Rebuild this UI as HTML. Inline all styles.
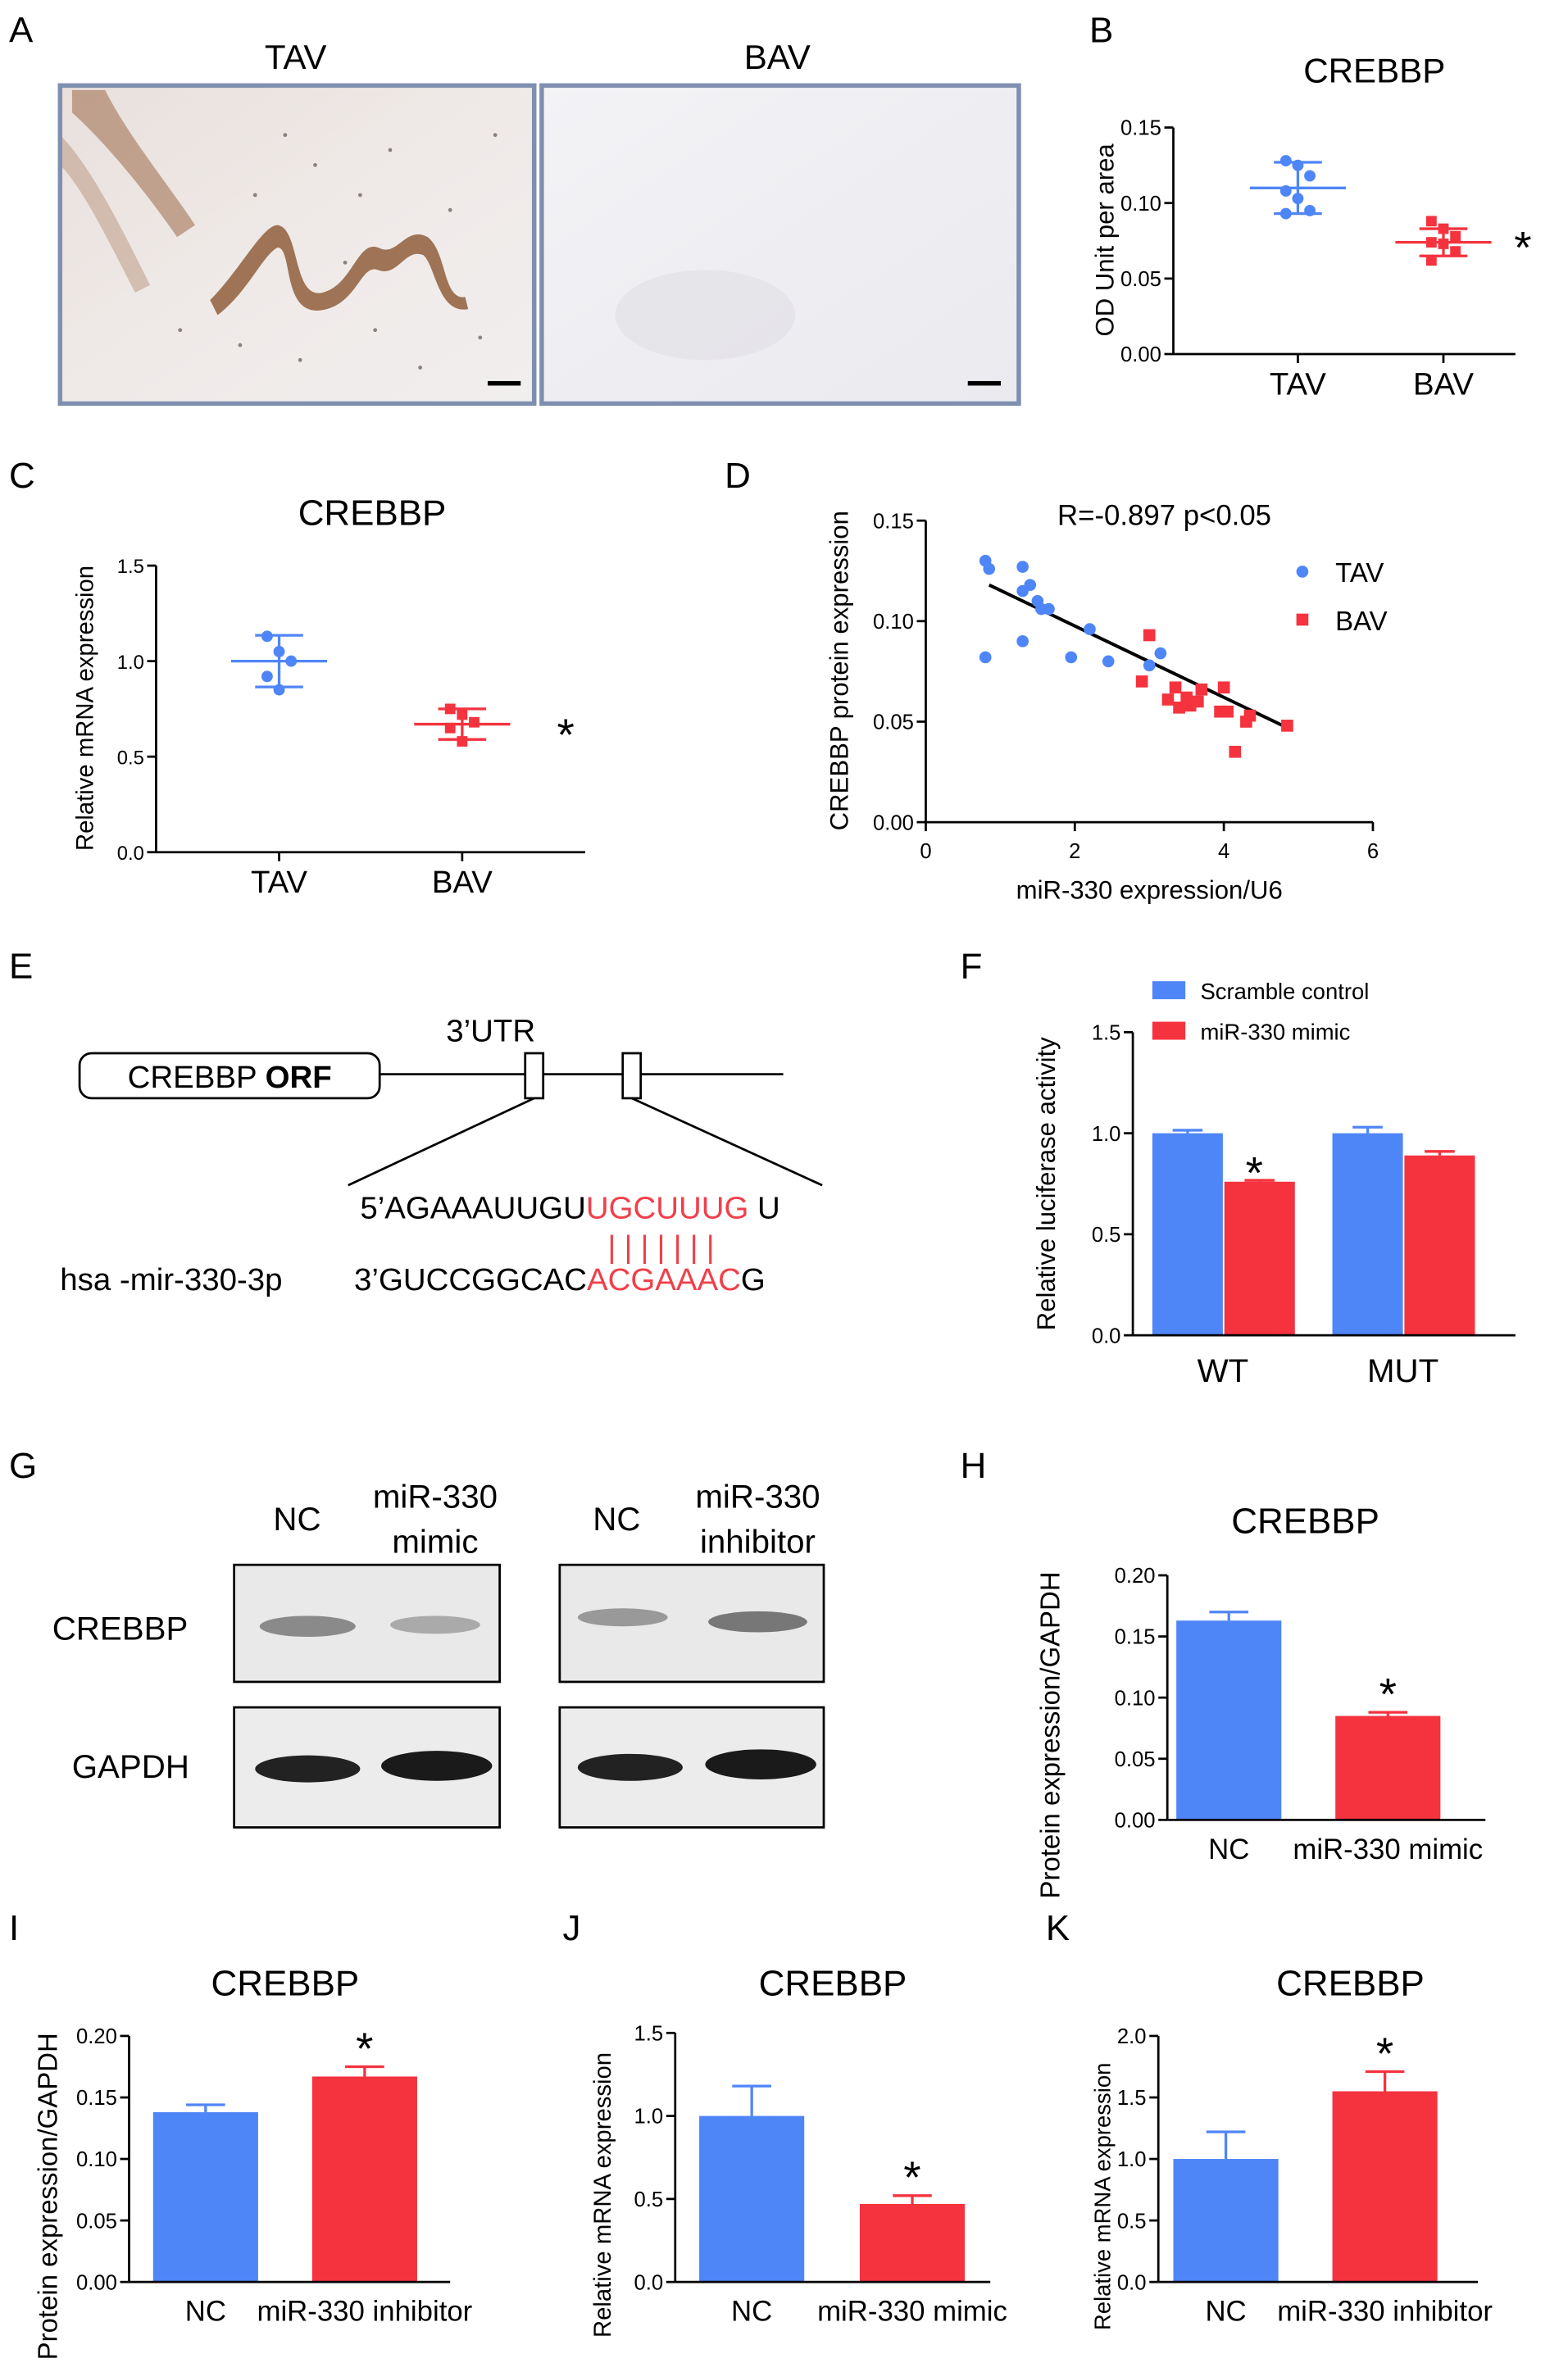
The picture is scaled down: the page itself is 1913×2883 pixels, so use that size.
<!DOCTYPE html>
<html><head><meta charset="utf-8">
<style>
html,body{margin:0;padding:0;background:#fff;}
svg{display:block;font-family:"Liberation Sans",Arial,sans-serif;}
</style></head>
<body>
<svg id="fig" width="1913" height="2883" viewBox="0 0 1045 1575" xmlns="http://www.w3.org/2000/svg">
<defs>
<linearGradient id="tavbg" x1="0" y1="0" x2="1" y2="1">
<stop offset="0" stop-color="#e9e0dc"/><stop offset="0.5" stop-color="#efeae8"/><stop offset="1" stop-color="#f1eeee"/></linearGradient>
<linearGradient id="bavbg" x1="0" y1="0" x2="1" y2="1">
<stop offset="0" stop-color="#f3f3f6"/><stop offset="1" stop-color="#eaeaef"/></linearGradient>
</defs>
<!-- Panel A -->
<g>
<text x="6" y="28" font-size="24">A</text>
<text x="197" y="46" font-size="23" text-anchor="middle">TAV</text>
<text x="518" y="46" font-size="23" text-anchor="middle">BAV</text>
<g>
<rect x="40" y="57" width="316" height="212" fill="url(#tavbg)"/>
<path d="M48,60 L70,60 C85,90 110,120 130,150 L118,158 C95,125 70,95 48,75 Z" fill="#9a6a48" opacity="0.55"/>
<path d="M40,90 C60,110 80,150 100,190 L90,195 C72,160 55,125 40,110 Z" fill="#a07050" opacity="0.35"/>
<path d="M140,200 C160,180 175,150 185,150 C200,152 195,200 215,195 C235,190 238,160 252,165 C265,172 270,150 285,158 C298,168 295,200 310,198 L312,206 C292,210 290,176 282,170 C270,165 265,185 252,180 C240,175 238,205 212,207 C188,208 195,165 185,165 C175,170 165,195 145,210 Z" fill="#8f5e3c" opacity="0.85"/>
<g fill="#4a3a3a" opacity="0.6">
<circle cx="190" cy="90" r="1.3"/><circle cx="210" cy="110" r="1.3"/><circle cx="240" cy="130" r="1.3"/><circle cx="260" cy="100" r="1.3"/><circle cx="300" cy="140" r="1.3"/><circle cx="160" cy="230" r="1.3"/><circle cx="200" cy="240" r="1.3"/><circle cx="250" cy="220" r="1.3"/><circle cx="280" cy="245" r="1.3"/><circle cx="320" cy="225" r="1.3"/><circle cx="120" cy="220" r="1.3"/><circle cx="230" cy="175" r="1.3"/><circle cx="170" cy="130" r="1.3"/><circle cx="330" cy="90" r="1.3"/>
</g>
<rect x="40" y="57" width="316" height="212" fill="none" stroke="#7f8fb0" stroke-width="3"/>
<rect x="325" y="254" width="22" height="3" fill="#000"/>
</g>
<g>
<rect x="361" y="57" width="318" height="212" fill="url(#bavbg)"/>
<ellipse cx="470" cy="210" rx="60" ry="30" fill="#dddbe2" opacity="0.5"/>
<rect x="361" y="57" width="318" height="212" fill="none" stroke="#7f8fb0" stroke-width="3"/>
<rect x="645" y="254" width="22" height="3" fill="#000"/>
</g>
</g>
<!-- Panel E -->
<g font-size="21">
<text x="6" y="652" font-size="24">E</text>
<line x1="253" y1="716" x2="522" y2="716" stroke="#000" stroke-width="1.5"/>
<rect x="53" y="702" width="200" height="30" rx="8" fill="#fff" stroke="#000" stroke-width="1.5"/>
<text x="153" y="725" text-anchor="middle">CREBBP <tspan font-weight="bold">ORF</tspan></text>
<text x="327" y="694" text-anchor="middle">3’UTR</text>
<rect x="350" y="702" width="12" height="30" fill="#fff" stroke="#000" stroke-width="1.5"/>
<rect x="415" y="702" width="12" height="30" fill="#fff" stroke="#000" stroke-width="1.5"/>
<line x1="356" y1="732" x2="232" y2="790" stroke="#000" stroke-width="1.5"/>
<line x1="421" y1="732" x2="548" y2="790" stroke="#000" stroke-width="1.5"/>
<text x="240" y="812">5’AGAAAUUGU<tspan fill="#f0404a">UGCUUUG</tspan> U</text>
<text x="405" y="838" fill="#f0404a" letter-spacing="5.5">|||||||</text>
<text x="40" y="860">hsa -mir-330-3p</text>
<text x="236" y="860">3’GUCCGGCAC<tspan fill="#f0404a">ACGAAAC</tspan>G</text>
</g>
<!-- Panel G -->
<g font-size="22">
<text x="6" y="985" font-size="24">G</text>
<text x="198" y="1020" text-anchor="middle">NC</text>
<text x="290" y="1005" text-anchor="middle">miR-330</text>
<text x="290" y="1035" text-anchor="middle">mimic</text>
<text x="411" y="1020" text-anchor="middle">NC</text>
<text x="505" y="1005" text-anchor="middle">miR-330</text>
<text x="505" y="1035" text-anchor="middle">inhibitor</text>
<text x="80" y="1093" text-anchor="middle">CREBBP</text>
<text x="87" y="1185" text-anchor="middle">GAPDH</text>
<rect x="156" y="1043" width="177" height="78" fill="#e9e9e9" stroke="#000" stroke-width="1.5"/>
<rect x="373" y="1043" width="176" height="78" fill="#e9e9e9" stroke="#000" stroke-width="1.5"/>
<rect x="156" y="1138" width="177" height="80" fill="#ececec" stroke="#000" stroke-width="1.5"/>
<rect x="373" y="1138" width="176" height="80" fill="#ececec" stroke="#000" stroke-width="1.5"/>
<ellipse cx="205" cy="1084" rx="32" ry="7" fill="#8a8a8a"/>
<ellipse cx="290" cy="1083" rx="30" ry="6" fill="#aaa"/>
<ellipse cx="415" cy="1078" rx="30" ry="6" fill="#999"/>
<ellipse cx="505" cy="1081" rx="33" ry="7" fill="#777"/>
<ellipse cx="205" cy="1179" rx="35" ry="9" fill="#222"/>
<ellipse cx="291" cy="1177" rx="37" ry="10" fill="#1a1a1a"/>
<ellipse cx="420" cy="1178" rx="35" ry="9" fill="#222"/>
<ellipse cx="507" cy="1176" rx="37" ry="10" fill="#1a1a1a"/>
</g>
<g id="charts"></g>
</svg>
<script>
// ---- Data arrays ----
var bTicks = [0, 0.05, 0.10, 0.15];
var bTickLabels = ["0.00", "0.05", "0.10", "0.15"];
var bCategories = ["TAV", "BAV"];
var bTavPoints = [0.128, 0.125, 0.118, 0.108, 0.103, 0.095, 0.093];
var bBavPoints = [0.088, 0.083, 0.078, 0.074, 0.073, 0.068, 0.062];
var bMeans = [0.110, 0.074];
var bSd = [0.017, 0.009];

var cTicks = [0, 0.5, 1.0, 1.5];
var cTickLabels = ["0.0", "0.5", "1.0", "1.5"];
var cCategories = ["TAV", "BAV"];
var cTavPoints = [1.13, 1.05, 1.0, 0.92, 0.85];
var cBavPoints = [0.75, 0.72, 0.68, 0.65, 0.58];
var cMeans = [1.0, 0.67];
var cSd = [0.135, 0.08];

var dXTicks = [0, 2, 4, 6];
var dYTicks = [0, 0.05, 0.10, 0.15];
var dYTickLabels = ["0.00", "0.05", "0.10", "0.15"];
var dTavX = [0.8, 0.85, 1.3, 1.4, 1.3, 1.5, 1.55, 1.65, 1.3, 0.8, 2.2, 1.95, 2.45, 3.0, 3.15];
var dTavY = [0.130, 0.126, 0.127, 0.118, 0.115, 0.110, 0.106, 0.106, 0.090, 0.082, 0.096, 0.082, 0.080, 0.078, 0.084];
var dBavX = [3.0, 2.9, 3.35, 3.4, 3.55, 3.65, 3.7, 3.5, 3.95, 4.0, 4.05, 4.15, 4.35, 4.3, 4.85, 3.25];
var dBavY = [0.093, 0.070, 0.067, 0.057, 0.058, 0.060, 0.066, 0.062, 0.055, 0.067, 0.055, 0.035, 0.053, 0.050, 0.048, 0.061];
var dFitX = [0.85, 4.85];
var dFitY = [0.118, 0.047];

var fTicks = [0, 0.5, 1.0, 1.5];
var fTickLabels = ["0.0", "0.5", "1.0", "1.5"];
var fGroups = ["WT", "MUT"];
var fScramble = [1.0, 1.0];
var fScrambleErr = [0.015, 0.03];
var fMimic = [0.76, 0.89];
var fMimicErr = [0.007, 0.02];

var hTicks = [0, 0.05, 0.10, 0.15, 0.20];
var hTickLabels = ["0.00", "0.05", "0.10", "0.15", "0.20"];
var hCategories = ["NC", "miR-330 mimic"];
var hValues = [0.163, 0.085];
var hErrors = [0.007, 0.003];

var iTicks = [0, 0.05, 0.10, 0.15, 0.20];
var iTickLabels = ["0.00", "0.05", "0.10", "0.15", "0.20"];
var iCategories = ["NC", "miR-330 inhibitor"];
var iValues = [0.138, 0.167];
var iErrors = [0.006, 0.008];

var jTicks = [0, 0.5, 1.0, 1.5];
var jTickLabels = ["0.0", "0.5", "1.0", "1.5"];
var jCategories = ["NC", "miR-330 mimic"];
var jValues = [1.0, 0.47];
var jErrors = [0.18, 0.05];

var kTicks = [0, 0.5, 1.0, 1.5, 2.0];
var kTickLabels = ["0.0", "0.5", "1.0", "1.5", "2.0"];
var kCategories = ["NC", "miR-330 inhibitor"];
var kValues = [1.0, 1.55];
var kErrors = [0.22, 0.16];

var BLUE = "#4f86f7", RED = "#f4333f";
var NS = "http://www.w3.org/2000/svg";
var root = document.getElementById("charts");

function mk(tag, attrs, parent, text) {
  var e = document.createElementNS(NS, tag);
  for (var k in attrs) e.setAttribute(k, attrs[k]);
  if (text !== undefined) e.textContent = text;
  (parent || root).appendChild(e);
  return e;
}
function linScale(d0, d1, r0, r1) { return function (v) { return r0 + (v - d0) / (d1 - d0) * (r1 - r0); }; }

function yAxis(g, x, y, ticks, labels, fs) {
  mk("line", {x1: x, y1: y(ticks[0]), x2: x, y2: y(ticks[ticks.length - 1]), stroke: "#000", "stroke-width": 1.5}, g);
  for (var i = 0; i < ticks.length; i++) {
    mk("line", {x1: x - 6, y1: y(ticks[i]), x2: x, y2: y(ticks[i]), stroke: "#000", "stroke-width": 1.5}, g);
    var t = mk("text", {x: x - 8, y: y(ticks[i]) + 5, "font-size": fs || 14, "text-anchor": "end"}, g, labels[i]);
    
    
  }
}
function yTitle(g, x, cy, txt, fs) {
  var t = mk("text", {x: x, y: cy, "font-size": fs || 17, "text-anchor": "middle", transform: "rotate(-90 " + x + " " + cy + ")"}, g, txt);
  
  
}
function label(g, x, y, txt, fs, name, anchor, weight) {
  var t = mk("text", {x: x, y: y, "font-size": fs, "text-anchor": anchor || "middle", "font-weight": weight || "normal"}, g, txt);
  
  
  return t;
}
function errBar(g, cx, y0, y1, hw, color) {
  mk("line", {x1: cx, y1: y0, x2: cx, y2: y1, stroke: color, "stroke-width": 1.8}, g);
  mk("line", {x1: cx - hw, y1: y1, x2: cx + hw, y2: y1, stroke: color, "stroke-width": 1.8}, g);
}

// ---- Dot plot (B, C) ----
function dotPlot(name, ax, x, ticks, labels, cats, pts, means, sds, fsTick) {
  var g = mk("g", {});
  
  
  yAxis(g, ax.x0, ax.y, ticks, labels, fsTick);
  mk("line", {x1: ax.x0, y1: ax.y(0), x2: ax.x1, y2: ax.y(0), stroke: "#000", "stroke-width": 1.5}, g);
  for (var c = 0; c < cats.length; c++) {
    var col = c === 0 ? BLUE : RED, cx = x(c);
    mk("line", {x1: cx, y1: ax.y(0), x2: cx, y2: ax.y(0) + 6, stroke: "#000", "stroke-width": 1.5}, g);
    label(g, cx, ax.y(0) + 27, cats[c], 21, "x-category-label");
    var p = pts[c];
    for (var i = 0; i < p.length; i++) {
      var off = (i % 3 - 1) * 8;
      var m;
      if (c === 0) m = mk("circle", {cx: cx + off, cy: ax.y(p[i]), r: 3.8, fill: col}, g);
      else m = mk("rect", {x: cx + off - 3.5, y: ax.y(p[i]) - 3.5, width: 7, height: 7, fill: col}, g);
      
      
    }
    var my = ax.y(means[c]);
    var ml = mk("line", {x1: cx - 32, y1: my, x2: cx + 32, y2: my, stroke: col, "stroke-width": 1.8}, g);
    
    
    mk("line", {x1: cx, y1: ax.y(means[c] - sds[c]), x2: cx, y2: ax.y(means[c] + sds[c]), stroke: col, "stroke-width": 1.8}, g);
    mk("line", {x1: cx - 16, y1: ax.y(means[c] - sds[c]), x2: cx + 16, y2: ax.y(means[c] - sds[c]), stroke: col, "stroke-width": 1.8}, g);
    mk("line", {x1: cx - 16, y1: ax.y(means[c] + sds[c]), x2: cx + 16, y2: ax.y(means[c] + sds[c]), stroke: col, "stroke-width": 1.8}, g);
  }
  return g;
}

// Panel B
var gB = dotPlot("panel-b-chart", {x0: 782, x1: 1010, y: linScale(0, 0.15, 236, 85)}, function (i) { return [865, 962][i]; },
  bTicks, bTickLabels, bCategories, [bTavPoints, bBavPoints], bMeans, bSd, 14);
label(gB, 726, 28, "B", 24, "panel-label-b", "start");
label(gB, 916, 55, "CREBBP", 23, "chart-title");
yTitle(gB, 742, 160, "OD Unit per area", 17);
label(gB, 1015, 175, "*", 30, "significance-star");

// Panel C
var gC = dotPlot("panel-c-chart", {x0: 104, x1: 390, y: linScale(0, 1.5, 568, 377)}, function (i) { return [186, 308][i]; },
  cTicks, cTickLabels, cCategories, [cTavPoints, cBavPoints], cMeans, cSd, 13);
label(gC, 6, 325, "C", 24, "panel-label-c", "start");
label(gC, 248, 350, "CREBBP", 24, "chart-title");
yTitle(gC, 62, 472, "Relative mRNA expression", 16);
label(gC, 377, 500, "*", 30, "significance-star");

// Panel D
(function () {
  var g = mk("g", {});
  
  
  var x = linScale(0, 6, 617, 915), y = linScale(0, 0.15, 548, 347);
  label(g, 483, 325, "D", 24, "panel-label-d", "start");
  yAxis(g, 617, y, dYTicks, dYTickLabels, 14);
  mk("line", {x1: 617, y1: y(0), x2: x(6), y2: y(0), stroke: "#000", "stroke-width": 1.5}, g);
  for (var i = 0; i < dXTicks.length; i++) {
    mk("line", {x1: x(dXTicks[i]), y1: y(0), x2: x(dXTicks[i]), y2: y(0) + 6, stroke: "#000", "stroke-width": 1.5}, g);
    label(g, x(dXTicks[i]), y(0) + 24, String(dXTicks[i]), 14, "x-tick-label");
  }
  label(g, 766, 599, "miR-330 expression/U6", 17, "x-axis-title");
  yTitle(g, 565, 447, "CREBBP protein expression", 17);
  label(g, 776, 350, "R=-0.897 p<0.05", 19, "correlation-annotation");
  var fl = mk("line", {x1: x(dFitX[0]), y1: y(dFitY[0]), x2: x(dFitX[1]), y2: y(dFitY[1]), stroke: "#000", "stroke-width": 2.2}, g);
  
  
  for (var i = 0; i < dTavX.length; i++) {
    var c = mk("circle", {cx: x(dTavX[i]), cy: y(dTavY[i]), r: 4, fill: BLUE}, g);
    
    
  }
  for (var i = 0; i < dBavX.length; i++) {
    var r = mk("rect", {x: x(dBavX[i]) - 4, y: y(dBavY[i]) - 4, width: 8, height: 8, fill: RED}, g);
    
    
  }
  var l1 = mk("circle", {cx: 868, cy: 381, r: 4, fill: BLUE}, g);
  
  
  label(g, 890, 388, "TAV", 18, "legend-entry-tav", "start");
  var l2 = mk("rect", {x: 864, y: 409, width: 8, height: 8, fill: RED}, g);
  
  
  label(g, 890, 420, "BAV", 18, "legend-entry-bav", "start");
})();

// Panel F
(function () {
  var g = mk("g", {});
  
  
  var y = linScale(0, 1.5, 890, 688);
  label(g, 640, 652, "F", 24, "panel-label-f", "start");
  var lb = mk("rect", {x: 768, y: 654, width: 22, height: 12, fill: BLUE}, g);
  
  
  label(g, 800, 666, "Scramble control", 15, "legend-entry-scramble", "start");
  var lr = mk("rect", {x: 768, y: 681, width: 22, height: 12, fill: RED}, g);
  
  
  label(g, 800, 693, "miR-330 mimic", 15, "legend-entry-mimic", "start");
  var groupX = [768, 888], bw = 47;
  for (var i = 0; i < fGroups.length; i++) {
    var bx = groupX[i];
    var b1 = mk("rect", {x: bx, y: y(fScramble[i]), width: bw, height: y(0) - y(fScramble[i]), fill: BLUE}, g);
    
    
    errBar(g, bx + bw / 2, y(fScramble[i]), y(fScramble[i] + fScrambleErr[i]), 10, BLUE);
    var b2 = mk("rect", {x: bx + bw + 1, y: y(fMimic[i]), width: bw, height: y(0) - y(fMimic[i]), fill: RED}, g);
    
    
    errBar(g, bx + bw * 1.5 + 1, y(fMimic[i]), y(fMimic[i] + fMimicErr[i]), 10, RED);
    label(g, bx + bw, 921, fGroups[i], 22, "x-group-label");
  }
  yAxis(g, 755, y, fTicks, fTickLabels, 14);
  mk("line", {x1: 755, y1: y(0), x2: 1010, y2: y(0), stroke: "#000", "stroke-width": 1.5}, g);
  yTitle(g, 703, 789, "Relative luciferase activity", 17);
  label(g, 836, 792, "*", 30, "significance-star");
})();

// Simple two-bar charts (H, I, J, K)
function barChart(name, letter, lx, ly, title, tx, ax, ticks, labels, cats, vals, errs, ytx, ytitle, ytfs) {
  var g = mk("g", {});
  
  
  label(g, lx, ly, letter, 24, "panel-label-" + letter.toLowerCase(), "start");
  label(g, tx, ly + 37, title, 24, "chart-title");
  var y = ax.y;
  for (var i = 0; i < vals.length; i++) {
    var col = i === 0 ? BLUE : RED, bx = ax.bars[i];
    var b = mk("rect", {x: bx, y: y(vals[i]), width: 70, height: y(0) - y(vals[i]), fill: col}, g);
    
    
    errBar(g, bx + 35, y(vals[i]), y(vals[i] + errs[i]), 13, col);
    label(g, bx + 35, y(0) + 26, cats[i], 19, "x-category-label");
  }
  yAxis(g, ax.x0, y, ticks, labels, 14);
  mk("line", {x1: ax.x0, y1: y(0), x2: ax.x1, y2: y(0), stroke: "#000", "stroke-width": 1.5}, g);
  yTitle(g, ytx, (y(0) + y(ticks[ticks.length - 1])) / 2 + 25, ytitle, ytfs);
  label(g, ax.bars[1] + 35, y(vals[1] + errs[1]) - 2, "*", 30, "significance-star");
  return g;
}
barChart("panel-h-bar-chart", "H", 640, 985, "CREBBP", 870, {x0: 778, x1: 990, y: linScale(0, 0.2, 1213, 1050), bars: [784, 890]},
  hTicks, hTickLabels, hCategories, hValues, hErrors, 706, "Protein expression/GAPDH", 18);
barChart("panel-i-bar-chart", "I", 6, 1293, "CREBBP", 190, {x0: 86, x1: 300, y: linScale(0, 0.2, 1521, 1357), bars: [102, 208]},
  iTicks, iTickLabels, iCategories, iValues, iErrors, 38, "Protein expression/GAPDH", 18);
barChart("panel-j-bar-chart", "J", 375, 1293, "CREBBP", 555, {x0: 450, x1: 660, y: linScale(0, 1.5, 1521, 1355), bars: [466, 573]},
  jTicks, jTickLabels, jCategories, jValues, jErrors, 407, "Relative mRNA expression", 16);
barChart("panel-k-bar-chart", "K", 697, 1293, "CREBBP", 900, {x0: 772, x1: 985, y: linScale(0, 2.0, 1521, 1357), bars: [782, 888]},
  kTicks, kTickLabels, kCategories, kValues, kErrors, 740, "Relative mRNA expression", 15);
</script>
</body></html>
